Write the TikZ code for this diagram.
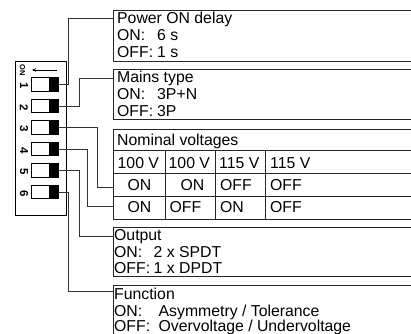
\documentclass[tikz,border=0pt]{standalone}
\usepackage{fontspec}
\setmainfont{Liberation Sans}
\usetikzlibrary{arrows.meta}
\begin{document}
\begin{tikzpicture}[x=1pt,y=-1pt,
  box/.style={draw=black!85, line width=0.9pt, anchor=north west, inner sep=0pt, minimum width=320pt},
  gridline/.style={draw=black!85, line width=0.9pt},
  conn/.style={draw=black!80, line width=0.9pt},
  sw/.style={draw=black, line width=0.8pt, minimum width=26.4pt, minimum height=13.5pt, inner sep=0pt,
    path picture={\fill[black] ([xshift=-9pt]path picture bounding box.north east) rectangle (path picture bounding box.south east);}},
  txt/.style={anchor=base west, inner sep=0pt, font=\fontsize{15.8}{17}\selectfont},
  num/.style={font=\fontsize{11.5}{12}\selectfont\bfseries, rotate=-90, inner sep=0pt},
]
\clip (0,0) rectangle (411,333);
% DIP switch housing
\node[draw=black, line width=0.8pt, anchor=north west, minimum width=50.8pt, minimum height=153.5pt, inner sep=0pt] (hous) at (14.7,61) {};
\node[font=\fontsize{7.5}{8}\selectfont\bfseries, rotate=-90, inner sep=0pt] (onl) at (22.5,70) {ON};
\coordinate (a1) at (57,70);
\coordinate (a0) at (32,70);
\draw[line width=0.6pt, -{Stealth[length=4pt,width=3.5pt]}] (a1) -- (a0);
\foreach \i/\y in {1/84.5,2/106,3/127.5,4/149,5/170.5,6/192}{
  \node[sw] (s\i) at (44.9,\y) {};
  \node[num] (n\i) at (24,\y+1.5) {\i};
}
% boxes
\node[box, minimum height=51pt] (b1) at (113,10) {};
\node[box, minimum height=50.3pt] (b2) at (113,69) {};
\node[box, minimum height=90pt] (nv) at (113,129) {};
\node[box, minimum height=49pt] (b4) at (113,227) {};
\node[box, minimum height=80pt] (b5) at (113,285) {};
% table grid
\draw[gridline] (113,150) -- (420,150);
\draw[gridline] (113,173) -- (420,173);
\draw[gridline] (113,196) -- (420,196);
\draw[gridline] (165,150) -- (165,219);
\draw[gridline] (215,150) -- (215,219);
\draw[gridline] (265.7,150) -- (265.7,219);
% texts box 1
\node[txt] (t11) at (117,23) {Power ON delay};
\node[txt] (t12) at (117,40) {ON:};
\node[txt] (t13) at (157,40) {6 s};
\node[txt] (t14) at (117,57) {OFF:};
\node[txt] (t15) at (157,57) {1 s};
% box 2
\node[txt] (t21) at (117,82.5) {Mains type};
\node[txt] (t22) at (117,99.5) {ON:};
\node[txt] (t23) at (157,99.5) {3P+N};
\node[txt] (t24) at (117,116.5) {OFF:};
\node[txt] (t25) at (157,116.5) {3P};
% table
\node[txt] (t31) at (117,145) {Nominal voltages};
\node[txt] (h1) at (117.5,168) {100 V};
\node[txt] (h2) at (168.5,168) {100 V};
\node[txt] (h3) at (219,168) {115 V};
\node[txt] (h4) at (270,168) {115 V};
\node[txt] (r11) at (127.5,190.5) {ON};
\node[txt] (r12) at (180.5,190.5) {ON};
\node[txt] (r13) at (220,190.5) {OFF};
\node[txt] (r14) at (270,190.5) {OFF};
\node[txt] (r21) at (127.5,212.5) {ON};
\node[txt] (r22) at (169.5,212.5) {OFF};
\node[txt] (r23) at (220,212.5) {ON};
\node[txt] (r24) at (270,212.5) {OFF};
% output
\node[txt] (t41) at (114,240.5) {Output};
\node[txt] (t42) at (114,257) {ON:};
\node[txt] (t43) at (153.5,257) {2 x SPDT};
\node[txt] (t44) at (114,273.5) {OFF:};
\node[txt] (t45) at (153.5,273.5) {1 x DPDT};
% function
\node[txt] (t51) at (114,299.5) {Function};
\node[txt] (t52) at (114,316) {ON:};
\node[txt] (t53) at (158.5,316) {Asymmetry / Tolerance};
\node[txt] (t54) at (114,331.3) {OFF:};
\node[txt] (t55) at (158.5,331.3) {Overvoltage / Undervoltage};
% connector entry points
\coordinate (e1) at (113,18);
\coordinate (e2) at (113,78.5);
\coordinate (e3) at (113,187);
\coordinate (e4) at (113,206.7);
\coordinate (e5) at (113,236);
\coordinate (e6) at (113,291.7);
\draw[conn] (s1.east) -- ++(10,0) |- (e1);
\draw[conn] (s2.east) -- ++(20.5,0) |- (e2);
\draw[conn] (s3.east) -- ++(38.7,0) |- (e3);
\draw[conn] (s4.east) -- ++(29,0) |- (e4);
\draw[conn] (s5.east) -- ++(20.5,0) |- (e5);
\draw[conn] (s6.east) -- ++(10,0) |- (e6);
\end{tikzpicture}
\end{document}
